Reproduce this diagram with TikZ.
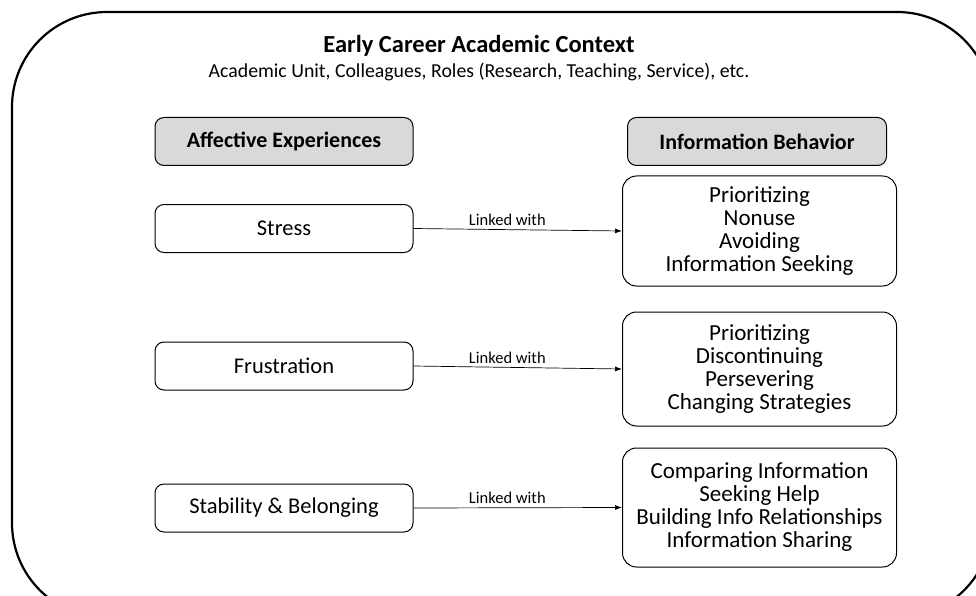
\documentclass[tikz,border=0pt]{standalone}
\usepackage{fontspec}
\setmainfont{Carlito}
\usetikzlibrary{arrows.meta}
\begin{document}
\begin{tikzpicture}[x=1pt,y=-1pt,
  box/.style={draw, line width=1pt, rounded corners=9pt, minimum width=258pt, minimum height=48pt, font=\fontsize{22.5}{23}\selectfont},
  headbox/.style={box, fill=gray!30, font=\fontsize{22}{23}\selectfont\bfseries},
  listbox/.style={draw, line width=1pt, rounded corners=14pt, minimum width=274pt, align=center, inner sep=4pt, font=\fontsize{23}{23}\selectfont},
  link/.style={-{Latex[length=7pt,width=5pt]}, line width=0.7pt},
  linklabel/.style={font=\fontsize{16.5}{18}\selectfont, above, pos=0.45}
]
\useasboundingbox (0,0) rectangle (976,596);
\begin{scope}
\clip (0,0) rectangle (976,596);
\draw[line width=2.2pt, rounded corners=95pt] (12,12) rectangle (992,618);
\end{scope}

\node (title) at (479,46) {\fontsize{24.5}{28}\selectfont\bfseries Early Career Academic Context};
\node (sub) at (479,72) {\fontsize{19.8}{22}\selectfont Academic Unit, Colleagues, Roles (Research, Teaching, Service), etc.};

\node[headbox] (ae) at (284,141.5) {Affective Experiences};
\node[headbox, minimum width=259pt] (ib) at (757,141.5) {Information Behavior};

\node[box] (stress) at (284,228.5) {Stress};
\node[box] (frus) at (284,366) {Frustration};
\node[box] (stab) at (284,508) {Stability \& Belonging};

\node[listbox, minimum height=110pt] (r1) at (759.5,231) {Prioritizing\\Nonuse\\Avoiding\\Information Seeking};
\node[listbox, minimum height=114pt] (r2) at (759.5,369) {Prioritizing\\Discontinuing\\Persevering\\Changing Strategies};
\node[listbox, minimum height=119pt] (r3) at (759.5,507.5) {Comparing Information\\Seeking Help\\Building Info Relationships\\Information Sharing};

\draw[link] (stress.east) -- (r1.west) node[linklabel] {Linked with};
\draw[link] (frus.east) -- (r2.west) node[linklabel] {Linked with};
\draw[link] (stab.east) -- (r3.west) node[linklabel] {Linked with};
\end{tikzpicture}
\end{document}
